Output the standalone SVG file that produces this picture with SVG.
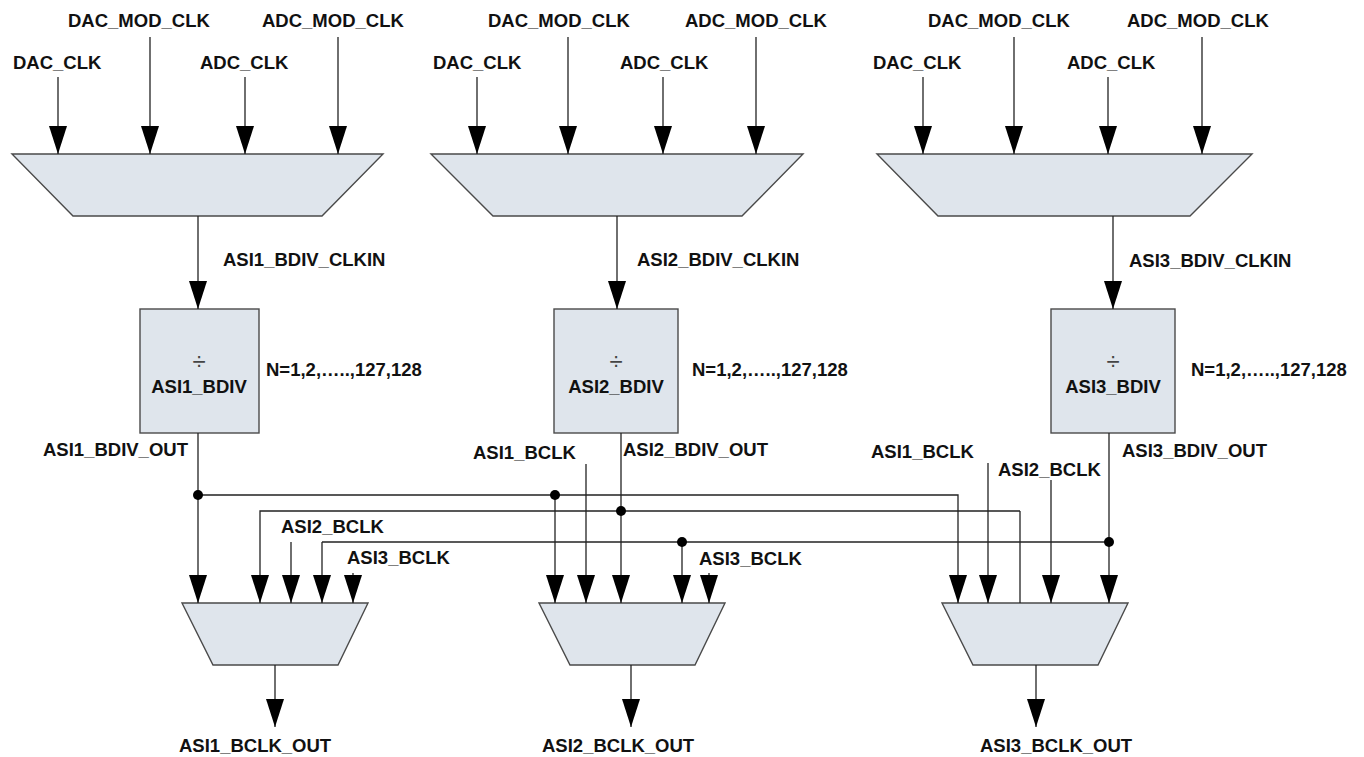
<svg xmlns="http://www.w3.org/2000/svg" width="1364" height="757" viewBox="0 0 1364 757">
<style>
text{font-family:"Liberation Sans",Arial,sans-serif;font-weight:bold;font-size:18.5px;fill:#111}
.blk{fill:#dfe5ec;stroke:#4a4a4a;stroke-width:1.4}
.w{fill:none;stroke:#222;stroke-width:1.3}
.wa{fill:none;stroke:#222;stroke-width:1.3;marker-end:url(#ah)}
.dot{fill:#000}
.div{font-weight:normal;font-size:24px;fill:#444}
</style>
<defs>
<marker id="ah" markerUnits="userSpaceOnUse" markerWidth="30" markerHeight="20" refX="28" refY="9" orient="auto">
<path d="M0,0 L28,9 L0,18 z" fill="#000"/>
</marker>
</defs>
<rect width="1364" height="757" fill="#fff"/>

<g id="mux-top-1"><polygon class="blk" points="12,154 383,154 322,216 73,216"/></g>
<g id="mux-top-2"><polygon class="blk" points="431,154 803,154 742,216 493,216"/></g>
<g id="mux-top-3"><polygon class="blk" points="877,154 1252,154 1190,216 938,216"/></g>

<g id="div-1"><rect class="blk" x="140" y="309" width="119" height="124"/>
<text class="div" x="199" y="370" text-anchor="middle">÷</text>
<text x="199" y="393" text-anchor="middle">ASI1_BDIV</text></g>
<g id="div-2"><rect class="blk" x="554" y="309" width="124" height="124"/>
<text class="div" x="616" y="370" text-anchor="middle">÷</text>
<text x="616" y="393" text-anchor="middle">ASI2_BDIV</text></g>
<g id="div-3"><rect class="blk" x="1051" y="309" width="124" height="124"/>
<text class="div" x="1113" y="370" text-anchor="middle">÷</text>
<text x="1113" y="393" text-anchor="middle">ASI3_BDIV</text></g>

<g id="mux-bot-1"><polygon class="blk" points="182,603 368,603 338,665 213,665"/></g>
<g id="mux-bot-2"><polygon class="blk" points="539,603 725,603 695,665 570,665"/></g>
<g id="mux-bot-3"><polygon class="blk" points="942,603 1128,603 1098,665 973,665"/></g>

<g id="connectors">
<line class="wa" x1="58" y1="77" x2="58" y2="154"/>
<line class="wa" x1="150" y1="37" x2="150" y2="154"/>
<line class="wa" x1="245" y1="77" x2="245" y2="154"/>
<line class="wa" x1="338" y1="37" x2="338" y2="154"/>
<line class="wa" x1="477" y1="77" x2="477" y2="154"/>
<line class="wa" x1="568" y1="37" x2="568" y2="154"/>
<line class="wa" x1="663" y1="77" x2="663" y2="154"/>
<line class="wa" x1="756" y1="37" x2="756" y2="154"/>
<line class="wa" x1="923" y1="77" x2="923" y2="154"/>
<line class="wa" x1="1014" y1="37" x2="1014" y2="154"/>
<line class="wa" x1="1108" y1="77" x2="1108" y2="154"/>
<line class="wa" x1="1202" y1="37" x2="1202" y2="154"/>
<line class="wa" x1="198" y1="216" x2="198" y2="309"/>
<line class="wa" x1="617" y1="216" x2="617" y2="309"/>
<line class="wa" x1="1113" y1="216" x2="1113" y2="309"/>
<line class="wa" x1="198" y1="433" x2="198" y2="603"/>
<line class="wa" x1="621" y1="433" x2="621" y2="603"/>
<line class="wa" x1="1109" y1="433" x2="1109" y2="603"/>
<polyline class="wa" points="198,495 958,495 958,603"/>
<line class="wa" x1="555" y1="495" x2="555" y2="603"/>
<polyline class="wa" points="1020,511 260,511 260,603"/>
<line class="w" x1="1020" y1="511" x2="1020" y2="603"/>
<polyline class="w" points="322,542 1109,542"/>
<line class="wa" x1="322" y1="542" x2="322" y2="603"/>
<line class="wa" x1="682" y1="542" x2="682" y2="603"/>
<line class="wa" x1="291" y1="542" x2="291" y2="603"/>
<line class="wa" x1="353" y1="573" x2="353" y2="603"/>
<line class="wa" x1="586" y1="464" x2="586" y2="603"/>
<line class="wa" x1="709" y1="573" x2="709" y2="603"/>
<line class="wa" x1="988" y1="463" x2="988" y2="603"/>
<line class="wa" x1="1051" y1="480" x2="1051" y2="603"/>
<line class="wa" x1="275" y1="665" x2="275" y2="727"/>
<line class="wa" x1="631" y1="665" x2="631" y2="727"/>
<line class="wa" x1="1036" y1="665" x2="1036" y2="727"/>
<circle class="dot" cx="198" cy="495" r="5"/>
<circle class="dot" cx="555" cy="495" r="5"/>
<circle class="dot" cx="621" cy="511" r="5"/>
<circle class="dot" cx="682" cy="542" r="5"/>
<circle class="dot" cx="1109" cy="542" r="5"/>
</g>

<g id="labels">
<text x="13" y="69">DAC_CLK</text>
<text x="68" y="27">DAC_MOD_CLK</text>
<text x="200" y="69">ADC_CLK</text>
<text x="262" y="27">ADC_MOD_CLK</text>
<text x="433" y="69">DAC_CLK</text>
<text x="488" y="27">DAC_MOD_CLK</text>
<text x="620" y="69">ADC_CLK</text>
<text x="685" y="27">ADC_MOD_CLK</text>
<text x="873" y="69">DAC_CLK</text>
<text x="928" y="27">DAC_MOD_CLK</text>
<text x="1067" y="69">ADC_CLK</text>
<text x="1127" y="27">ADC_MOD_CLK</text>
<text x="223" y="266">ASI1_BDIV_CLKIN</text>
<text x="637" y="266">ASI2_BDIV_CLKIN</text>
<text x="1129" y="267">ASI3_BDIV_CLKIN</text>
<text x="266" y="376">N=1,2,…..,127,128</text>
<text x="692" y="376">N=1,2,…..,127,128</text>
<text x="1191" y="376">N=1,2,…..,127,128</text>
<text x="43" y="456">ASI1_BDIV_OUT</text>
<text x="623" y="456">ASI2_BDIV_OUT</text>
<text x="1122" y="457">ASI3_BDIV_OUT</text>
<text x="281" y="533">ASI2_BCLK</text>
<text x="347" y="564">ASI3_BCLK</text>
<text x="473" y="459">ASI1_BCLK</text>
<text x="699" y="565">ASI3_BCLK</text>
<text x="871" y="458">ASI1_BCLK</text>
<text x="998" y="476">ASI2_BCLK</text>
<text x="179" y="752">ASI1_BCLK_OUT</text>
<text x="542" y="752">ASI2_BCLK_OUT</text>
<text x="980" y="752">ASI3_BCLK_OUT</text>
</g>
</svg>
